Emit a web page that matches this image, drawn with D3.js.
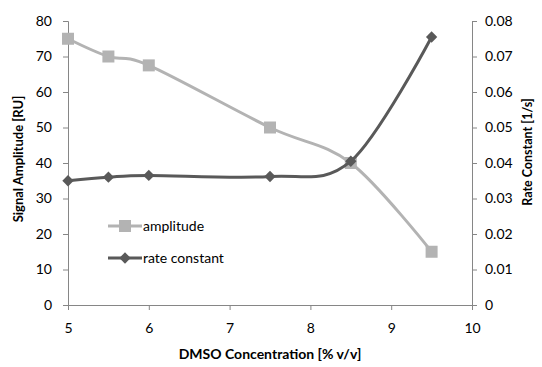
<!DOCTYPE html>
<html>
<head>
<meta charset="utf-8">
<script src="https://cdn.jsdelivr.net/npm/d3@7"></script>
<style>
  html, body { margin: 0; padding: 0; background: #fff; }
  svg { display: block; font-family: Lato, "Open Sans", "Liberation Sans", sans-serif; }
</style>
</head>
<body>
<svg id="chart" width="542" height="367"></svg>
<script>
// DMSO concentration (% v/v)
const concentrations = [5, 5.5, 6, 7.5, 8.5, 9.5];
// Signal amplitude (RU)
const amplitude = [75, 70, 67.5, 50, 40, 15];
// Rate constant (1/s)
const rateConstant = [0.035, 0.036, 0.0365, 0.0362, 0.0405, 0.0755];

const xTicks = [5, 6, 7, 8, 9, 10];
const leftTicks = [0, 10, 20, 30, 40, 50, 60, 70, 80];
const rightTicks = [0, 0.01, 0.02, 0.03, 0.04, 0.05, 0.06, 0.07, 0.08];

const svg = d3.select("#chart");
const plot = { left: 68, right: 472, top: 21, bottom: 305 };
const axisColor = "#868686";
const ampColor = "#b3b3b3";
const rateColor = "#595959";

const x = d3.scaleLinear().domain([5, 10]).range([plot.left, plot.right]);
const yL = d3.scaleLinear().domain([0, 80]).range([plot.bottom, plot.top]);
const yR = d3.scaleLinear().domain([0, 0.08]).range([plot.bottom, plot.top]);

function styleAxis(g) {
  g.selectAll("path.domain").attr("stroke", axisColor).attr("stroke-width", 1);
  g.selectAll(".tick line").attr("stroke", axisColor);
  g.selectAll(".tick text").attr("fill", "#000").style("font-size", "14px")
    .style("font-family", "Lato, 'Open Sans', sans-serif");
}

// x axis
svg.append("g")
  .attr("transform", `translate(0,${plot.bottom})`)
  .call(d3.axisBottom(x).tickValues(xTicks).tickFormat(d3.format("d")).tickSizeOuter(0).tickSize(5).tickPadding(13))
  .call(styleAxis);

// left axis
svg.append("g")
  .attr("transform", `translate(${plot.left},0)`)
  .call(d3.axisLeft(yL).tickValues(leftTicks).tickFormat(d3.format("d")).tickSizeOuter(0).tickSize(5).tickPadding(11))
  .call(styleAxis);

// right axis
svg.append("g")
  .attr("transform", `translate(${plot.right},0)`)
  .call(d3.axisRight(yR).tickValues(rightTicks).tickFormat(d => d === 0 ? "0" : d3.format(".2f")(d)).tickSizeOuter(0).tickSize(5).tickPadding(8))
  .call(styleAxis);

// axis titles
svg.append("text")
  .attr("x", 270).attr("y", 359)
  .attr("text-anchor", "middle")
  .style("font-size", "14px").style("font-weight", "bold")
  .text("DMSO Concentration [% v/v]");

svg.append("text")
  .attr("transform", "translate(23,159) rotate(-90)")
  .attr("text-anchor", "middle")
  .style("font-size", "13px").style("font-weight", "bold")
  .text("Signal Amplitude [RU]");

svg.append("text")
  .attr("transform", "translate(532,152) rotate(-90)")
  .attr("text-anchor", "middle")
  .style("font-size", "12.5px").style("font-weight", "bold")
  .text("Rate Constant  [1/s]");

const curve = d3.curveCardinal.tension(0);

// amplitude series
const ampData = concentrations.map((c, i) => [c, amplitude[i]]);
svg.append("path")
  .datum(ampData)
  .attr("fill", "none").attr("stroke", ampColor).attr("stroke-width", 3)
  .attr("d", d3.line().x(d => x(d[0])).y(d => yL(d[1])).curve(curve));
svg.selectAll("rect.amp").data(ampData).enter().append("rect")
  .attr("class", "amp")
  .attr("x", d => x(d[0]) - 6).attr("y", d => yL(d[1]) - 6)
  .attr("width", 12).attr("height", 12)
  .attr("fill", ampColor);

// rate constant series: square diamonds (rotated squares)
const rateData = concentrations.map((c, i) => [c, rateConstant[i]]);
svg.append("path")
  .datum(rateData)
  .attr("fill", "none").attr("stroke", rateColor).attr("stroke-width", 3)
  .attr("d", d3.line().x(d => x(d[0])).y(d => yR(d[1])).curve(curve));
const diamond = d3.symbol().type(d3.symbolSquare).size(64);
svg.selectAll("path.rate").data(rateData).enter().append("path")
  .attr("class", "rate")
  .attr("transform", d => `translate(${x(d[0])},${yR(d[1])}) rotate(45)`)
  .attr("d", diamond)
  .attr("fill", rateColor);

// legend
const legend = svg.append("g");
const legendItems = [
  { label: "amplitude", color: ampColor, marker: "square", y: 226 },
  { label: "rate constant", color: rateColor, marker: "diamond", y: 258 }
];
legendItems.forEach(item => {
  legend.append("line")
    .attr("x1", 108).attr("x2", 142).attr("y1", item.y).attr("y2", item.y)
    .attr("stroke", item.color).attr("stroke-width", 3);
  if (item.marker === "square") {
    legend.append("rect")
      .attr("x", 125 - 6).attr("y", item.y - 6).attr("width", 12).attr("height", 12)
      .attr("fill", item.color);
  } else {
    legend.append("path")
      .attr("transform", `translate(125,${item.y}) rotate(45)`)
      .attr("d", diamond).attr("fill", item.color);
  }
  legend.append("text")
    .attr("x", 143).attr("y", item.y + 5)
    .style("font-size", "14px")
    .text(item.label);
});
</script>
</body>
</html>
